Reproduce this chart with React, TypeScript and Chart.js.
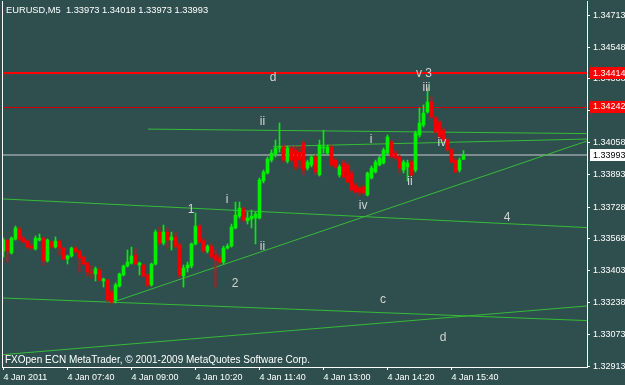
import { useEffect, useRef } from 'react';
import { Chart, registerables } from 'chart.js';

Chart.register(...registerables);

// ---------- data ----------
const symbolHeader = 'EURUSD,M5  1.33973 1.34018 1.33973 1.33993';
const copyright = 'FXOpen ECN MetaTrader, \u00A9 2001-2009 MetaQuotes Software Corp.';

const opens = [
  1.33503, 1.33559, 1.33493, 1.33564, 1.33616, 1.33569, 1.33554, 1.33528, 1.33513, 1.33559,
  1.33569, 1.33452, 1.33549, 1.33523, 1.33554, 1.33518, 1.33462, 1.33477, 1.33518, 1.33503,
  1.33472, 1.33441, 1.33395, 1.33385, 1.33405, 1.33349, 1.33354, 1.33293, 1.33252, 1.33323,
  1.33380, 1.33426, 1.33441, 1.33482, 1.33431, 1.33431, 1.33380, 1.33329, 1.33436, 1.33600,
  1.33544, 1.33600, 1.33559, 1.33575, 1.33534, 1.33375, 1.33416, 1.33426, 1.33539, 1.33631,
  1.33554, 1.33503, 1.33528, 1.33482, 1.33467, 1.33446, 1.33518, 1.33528, 1.33621, 1.33682,
  1.33718, 1.33657, 1.33667, 1.33672, 1.33672, 1.33862, 1.33903, 1.33969, 1.34000, 1.34031,
  1.34036, 1.33964, 1.34031, 1.34021, 1.34010, 1.34057, 1.33928, 1.33944, 1.33985, 1.33893,
  1.34031, 1.34005, 1.34036, 1.33969, 1.33893, 1.33954, 1.33944, 1.33903, 1.33841, 1.33826,
  1.33831, 1.33790, 1.33877, 1.33908, 1.33944, 1.33954, 1.34005, 1.34062, 1.34005, 1.33985,
  1.33918, 1.33934, 1.33959, 1.33918, 1.34098, 1.34149, 1.34216, 1.34267, 1.34185, 1.34164,
  1.34123, 1.34072, 1.34021, 1.33969, 1.33918, 1.33973,
];
const highs = [
  1.33569, 1.33564, 1.33575, 1.33631, 1.33626, 1.33580, 1.33559, 1.33539, 1.33580, 1.33590,
  1.33575, 1.33564, 1.33554, 1.33575, 1.33559, 1.33523, 1.33482, 1.33523, 1.33528, 1.33508,
  1.33477, 1.33446, 1.33426, 1.33421, 1.33416, 1.33364, 1.33359, 1.33303, 1.33339, 1.33390,
  1.33431, 1.33508, 1.33523, 1.33513, 1.33446, 1.33436, 1.33385, 1.33441, 1.33611, 1.33626,
  1.33636, 1.33621, 1.33600, 1.33600, 1.33544, 1.33431, 1.33446, 1.33544, 1.33698, 1.33641,
  1.33569, 1.33534, 1.33539, 1.33508, 1.33487, 1.33528, 1.33539, 1.33641, 1.33754, 1.33754,
  1.33728, 1.33703, 1.33713, 1.33703, 1.33877, 1.33918, 1.33985, 1.34021, 1.34072, 1.34159,
  1.34046, 1.34041, 1.34041, 1.34041, 1.34041, 1.34067, 1.33969, 1.33995, 1.33995, 1.34072,
  1.34123, 1.34046, 1.34046, 1.33980, 1.33944, 1.33969, 1.33954, 1.33918, 1.33852, 1.33836,
  1.33841, 1.33908, 1.33939, 1.33969, 1.33990, 1.34031, 1.34098, 1.34072, 1.34016, 1.33995,
  1.33969, 1.33969, 1.33969, 1.34118, 1.34236, 1.34252, 1.34339, 1.34293, 1.34195, 1.34175,
  1.34134, 1.34082, 1.34031, 1.33980, 1.33980, 1.34018,
];
const lows = [
  1.33472, 1.33446, 1.33487, 1.33559, 1.33554, 1.33544, 1.33518, 1.33508, 1.33508, 1.33554,
  1.33431, 1.33446, 1.33518, 1.33518, 1.33482, 1.33457, 1.33436, 1.33472, 1.33493, 1.33395,
  1.33431, 1.33375, 1.33364, 1.33349, 1.33349, 1.33318, 1.33241, 1.33231, 1.33236, 1.33318,
  1.33375, 1.33421, 1.33436, 1.33431, 1.33380, 1.33370, 1.33318, 1.33323, 1.33431, 1.33534,
  1.33534, 1.33518, 1.33508, 1.33518, 1.33364, 1.33318, 1.33395, 1.33416, 1.33534, 1.33544,
  1.33493, 1.33493, 1.33467, 1.33318, 1.33436, 1.33436, 1.33513, 1.33523, 1.33616, 1.33672,
  1.33652, 1.33641, 1.33621, 1.33539, 1.33667, 1.33852, 1.33898, 1.33959, 1.33985, 1.34010,
  1.33959, 1.33954, 1.33959, 1.33918, 1.33928, 1.33893, 1.33918, 1.33934, 1.33893, 1.33887,
  1.34005, 1.33995, 1.33939, 1.33928, 1.33882, 1.33877, 1.33852, 1.33811, 1.33800, 1.33785,
  1.33795, 1.33785, 1.33872, 1.33903, 1.33939, 1.33949, 1.34000, 1.33980, 1.33969, 1.33903,
  1.33903, 1.33862, 1.33887, 1.33908, 1.34087, 1.34139, 1.34210, 1.34185, 1.34108, 1.34082,
  1.34067, 1.34016, 1.33954, 1.33903, 1.33908, 1.33973,
];
const closes = [
  1.33559, 1.33503, 1.33569, 1.33621, 1.33564, 1.33549, 1.33523, 1.33518, 1.33569, 1.33569,
  1.33452, 1.33559, 1.33523, 1.33554, 1.33518, 1.33462, 1.33477, 1.33518, 1.33498, 1.33467,
  1.33436, 1.33395, 1.33390, 1.33411, 1.33354, 1.33359, 1.33252, 1.33241, 1.33329, 1.33385,
  1.33426, 1.33446, 1.33477, 1.33436, 1.33441, 1.33375, 1.33329, 1.33436, 1.33600, 1.33544,
  1.33600, 1.33559, 1.33575, 1.33528, 1.33380, 1.33416, 1.33431, 1.33539, 1.33631, 1.33549,
  1.33503, 1.33528, 1.33472, 1.33457, 1.33446, 1.33518, 1.33528, 1.33626, 1.33687, 1.33723,
  1.33662, 1.33672, 1.33682, 1.33693, 1.33867, 1.33908, 1.33975, 1.34005, 1.34031, 1.34036,
  1.33969, 1.34031, 1.33969, 1.33934, 1.33969, 1.33918, 1.33959, 1.33985, 1.33908, 1.34046,
  1.34036, 1.34036, 1.33944, 1.33934, 1.33934, 1.33882, 1.33857, 1.33816, 1.33805, 1.33805,
  1.33800, 1.33903, 1.33928, 1.33959, 1.33980, 1.34021, 1.34087, 1.33985, 1.33980, 1.33928,
  1.33959, 1.33954, 1.33893, 1.34108, 1.34159, 1.34210, 1.34267, 1.34190, 1.34113, 1.34087,
  1.34072, 1.34021, 1.33959, 1.33908, 1.33969, 1.33993,
];

const timeTickIndex = [0, 16, 32, 48, 64, 80, 96, 112];
const timeTickLabels = [
  '4 Jan 2011', '4 Jan 07:40', '4 Jan 09:00', '4 Jan 10:20',
  '4 Jan 11:40', '4 Jan 13:00', '4 Jan 14:20', '4 Jan 15:40',
];
const priceTicks = [
  1.34713, 1.34548, 1.34388, 1.34223, 1.34058, 1.33893,
  1.33728, 1.33568, 1.33403, 1.33238, 1.33073, 1.32913,
];
const levelPrices = [1.34414, 1.34242];
const bidPrice = 1.33993;

// trend lines (bar-index, price) endpoints
const trendStartX = [36.1, 67.4, 27.4, -0.375, -0.375, -0.375];
const trendStartY = [1.34128, 1.34039, 1.33241, 1.33770, 1.33262, 1.32971];
const trendEndX = [145.875, 145.875, 145.875, 145.875, 145.875, 145.875];
const trendEndY = [1.34105, 1.34077, 1.34067, 1.33623, 1.33146, 1.33221];

// wave labels
const waveText = ['d', 'v 3', 'iii', 'ii', 'i', 'iv', 'i', '1', 'ii', 'iv', 'ii', '4', '2', 'c', 'd'];
const waveX = [67.4, 105.1, 105.75, 64.75, 91.9, 109.6, 55.9, 46.9, 64.75, 89.9, 101.6, 125.9, 57.9, 94.9, 109.9];
const waveY = [1.34390, 1.34411, 1.34339, 1.34164, 1.34072, 1.34057, 1.33764, 1.33713, 1.33526, 1.33734, 1.33859, 1.33672, 1.33336, 1.33252, 1.33057];

// ---------- style ----------
const BG = '#2F4F4F';
const BULL = '#00f000';
const BEAR = '#f00000';
const TREND = '#36bb36';
const FONT = '"Liberation Sans", Arial, sans-serif';

export default function App() {
  const ref = useRef<HTMLCanvasElement>(null);

  useEffect(() => {
    const canvas = ref.current;
    if (!canvas) return;

    const colors = opens.map((o, i) => (closes[i] >= o ? BULL : BEAR));
    const wickData = opens.map((_, i) => ({ x: i, y: [lows[i], highs[i]] }));
    const bodyData = opens.map((o, i) => ({
      x: i,
      y: [Math.min(o, closes[i]), Math.max(o, closes[i])],
    }));

    const lineSets = trendStartX.map((x1, i) => ({
      type: 'line' as const,
      data: [
        { x: x1, y: trendStartY[i] },
        { x: trendEndX[i], y: trendEndY[i] },
      ],
      borderColor: TREND,
      borderWidth: 1,
      pointRadius: 0,
      fill: false,
      tension: 0,
      order: 5,
    }));

    const overlay = {
      id: 'mt4overlay',
      beforeDatasetsDraw(chart: any) {
        const { ctx, chartArea: a, scales } = chart;
        const y = scales.y;
        ctx.save();
        const hline = (v: number, color: string, w: number) => {
          const py = Math.round(y.getPixelForValue(v)) + (w % 2 ? 0.5 : 0);
          ctx.strokeStyle = color;
          ctx.lineWidth = w;
          ctx.beginPath();
          ctx.moveTo(a.left, py);
          ctx.lineTo(a.right, py);
          ctx.stroke();
        };
        hline(levelPrices[0], '#ff0000', 2);
        hline(levelPrices[1], '#d40000', 1);
        hline(bidPrice, '#7d8d8d', 2);
        ctx.restore();
      },
      afterDatasetsDraw(chart: any) {
        const { ctx, chartArea: a, scales } = chart;
        const x = scales.x;
        const y = scales.y;
        ctx.save();
        // wave labels
        ctx.fillStyle = '#d4d4d4';
        ctx.font = `12px ${FONT}`;
        ctx.textAlign = 'center';
        ctx.textBaseline = 'middle';
        waveText.forEach((t, i) => {
          ctx.fillText(t, x.getPixelForValue(waveX[i]), y.getPixelForValue(waveY[i]));
        });
        // header
        ctx.fillStyle = '#ffffff';
        ctx.textAlign = 'left';
        ctx.textBaseline = 'middle';
        ctx.font = `9.3px ${FONT}`;
        ctx.fillText(symbolHeader, 6, 10);
        // copyright
        ctx.font = `10px ${FONT}`;
        ctx.textBaseline = 'alphabetic';
        ctx.fillText(copyright, 5, a.bottom - 4);
        ctx.restore();
      },
      afterDraw(chart: any) {
        const { ctx, chartArea: a, scales } = chart;
        const y = scales.y;
        ctx.save();
        // left frame
        ctx.strokeStyle = '#ffffff';
        ctx.lineWidth = 1;
        ctx.beginPath();
        ctx.moveTo(a.left + 0.5, a.top);
        ctx.lineTo(a.left + 0.5, a.bottom);
        ctx.stroke();
        // price boxes
        ctx.font = `9px ${FONT}`;
        ctx.textAlign = 'left';
        ctx.textBaseline = 'middle';
        const box = (v: number, bg: string, fg: string) => {
          const py = y.getPixelForValue(v);
          ctx.fillStyle = bg;
          ctx.fillRect(590, Math.round(py) - 6, 35, 12);
          ctx.fillStyle = fg;
          ctx.fillText(v.toFixed(5), 593, py);
        };
        box(levelPrices[0], '#ff0000', '#ffffff');
        box(levelPrices[1], '#ff0000', '#ffffff');
        box(bidPrice, '#ffffff', '#000000');
        ctx.restore();
      },
    };

    const chart = new Chart(canvas, {
      type: 'bar',
      data: {
        datasets: [
          {
            type: 'bar',
            data: bodyData as any,
            backgroundColor: colors,
            borderWidth: 0,
            barThickness: 3,
            minBarLength: 1,
            grouped: false,
            order: 0,
          } as any,
          {
            type: 'bar',
            data: wickData as any,
            backgroundColor: colors,
            borderWidth: 0,
            barThickness: 1,
            grouped: false,
            order: 1,
          } as any,
          ...(lineSets as any[]),
        ],
      },
      options: {
        responsive: false,
        animation: false,
        devicePixelRatio: 1,
        events: [],
        layout: { padding: { left: 2, top: 1, right: 0, bottom: 0 } },
        plugins: {
          legend: { display: false },
          tooltip: { enabled: false },
        },
        scales: {
          x: {
            type: 'linear',
            min: -0.375,
            max: 145.875,
            offset: false,
            afterBuildTicks: (s: any) => {
              s.ticks = timeTickIndex.map((v) => ({ value: v }));
            },
            afterFit: (s: any) => {
              s.height = 18;
              s.paddingLeft = 0;
              s.paddingRight = 0;
            },
            ticks: {
              autoSkip: false,
              maxRotation: 0,
              minRotation: 0,
              align: 'start',
              padding: 2,
              color: '#ffffff',
              font: { family: FONT, size: 9 },
              callback: (_v: any, i: number) => timeTickLabels[i],
            },
            grid: {
              offset: false,
              drawOnChartArea: false,
              drawTicks: true,
              tickLength: 3,
              color: '#ffffff',
              lineWidth: 1,
            },
            border: { display: true, color: '#ffffff', width: 1 },
          },
          y: {
            type: 'linear',
            position: 'right',
            min: 1.32908,
            max: 1.34785,
            afterBuildTicks: (s: any) => {
              s.ticks = priceTicks.map((v) => ({ value: v }));
            },
            afterFit: (s: any) => {
              s.width = 38;
              s.paddingTop = 0;
              s.paddingBottom = 0;
            },
            ticks: {
              padding: 3,
              color: '#ffffff',
              font: { family: FONT, size: 9 },
              callback: (v: any) => Number(v).toFixed(5),
            },
            grid: {
              drawOnChartArea: false,
              drawTicks: true,
              tickLength: 3,
              color: '#ffffff',
              lineWidth: 1,
            },
            border: { display: true, color: '#ffffff', width: 1 },
          },
        },
      } as any,
      plugins: [overlay],
    });

    return () => chart.destroy();
  }, []);

  return (
    <div
      style={{
        position: 'absolute',
        left: 0,
        top: 0,
        width: 625,
        height: 385,
        background: BG,
        overflow: 'hidden',
      }}
    >
      <canvas ref={ref} width={625} height={385} style={{ display: 'block', width: 625, height: 385 }} />
    </div>
  );
}
